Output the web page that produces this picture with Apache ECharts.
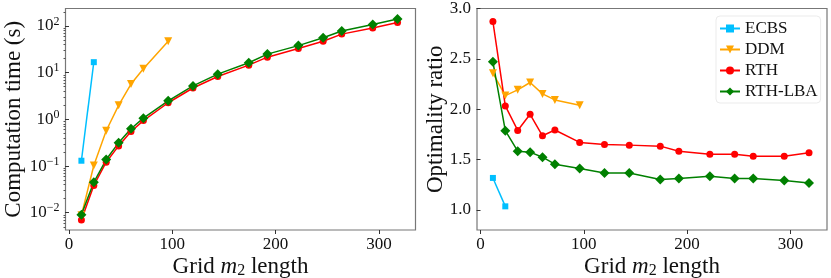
<!DOCTYPE html>
<html><head><meta charset="utf-8">
<script src="https://cdn.jsdelivr.net/npm/echarts@6/dist/echarts.min.js"></script>
<style>html,body{margin:0;padding:0;background:#fff}#c{width:831px;height:278px}</style>
</head><body><div id="c"></div>
<script>
const seriesNames = ['ECBS', 'DDM', 'RTH', 'RTH-LBA'];
const xECBS = [12, 24];
const xDDM = [12, 24, 36, 48, 60, 72, 96];
const xRTH = [12, 24, 36, 48, 60, 72, 96, 120, 144, 174, 192, 222, 246, 264, 294, 318];
const timeECBS = [0.13, 16.8];
const timeDDM = [0.0088, 0.103, 0.57, 2.0, 5.7, 12.1, 47];
const timeRTH = [0.007, 0.0385, 0.121, 0.27, 0.55, 0.94, 2.27, 4.7, 8.3, 14.5, 21.5, 33, 47, 67, 91, 119];
const timeLBA = [0.0091, 0.045, 0.138, 0.314, 0.63, 1.06, 2.5, 5.2, 9.3, 16.3, 25, 38, 56, 78, 108, 142];
const ratioECBS = [1.317, 1.035];
const ratioDDM = [2.358, 2.135, 2.192, 2.265, 2.152, 2.092, 2.039];
const ratioRTH = [2.870, 2.032, 1.789, 1.949, 1.736, 1.793, 1.670, 1.650, 1.643, 1.633, 1.583, 1.553, 1.553, 1.533, 1.533, 1.567];
const ratioLBA = [2.471, 1.786, 1.583, 1.573, 1.523, 1.454, 1.410, 1.367, 1.367, 1.301, 1.311, 1.334, 1.311, 1.311, 1.291, 1.267];
const xTicks = [0, 100, 200, 300];
const logTicks = [0.01, 0.1, 1, 10, 100];
const ratioTicks = [1.0, 1.5, 2.0, 2.5, 3.0];

const FONT = "'Liberation Serif', 'DejaVu Serif', serif";
const colors = ['#00bfff', '#ffa500', '#ff0000', '#008000'];
const symbols = ['rect', 'triangle', 'circle', 'diamond'];
const symSizes = [6, 8, 7, [10, 10]];
const symRot = [0, 180, 0, 0];
const frame = '#777';

const minorLog = [];
for (let e = -3; e <= 2; e++) for (let k = 2; k <= 9; k++) {
  const v = k * Math.pow(10, e);
  if (v > Math.pow(10, -2.37) && v < Math.pow(10, 2.375)) minorLog.push(v);
}

function pairs(xs, ys) { return xs.map((x, i) => [x, ys[i]]); }

const xAxisBase = (gi) => ({
  type: 'value', gridIndex: gi, min: -3.4, max: 335.4,
  splitLine: { show: false },
  axisLine: { show: false },
  axisTick: { show: true, length: 4, lineStyle: { color: '#333' }, customValues: xTicks },
  axisLabel: { fontFamily: FONT, fontSize: 17, color: '#111', margin: 6, customValues: xTicks },
  name: '{a|Grid }{m|m}{s|2}{a| length}',
  nameLocation: 'middle', nameGap: 24, nameMoveOverlap: false,
  nameTextStyle: {
    rich: {
      a: { fontFamily: FONT, fontSize: 23, color: '#111' },
      m: { fontFamily: FONT, fontSize: 23, fontStyle: 'italic', color: '#111' },
      s: { fontFamily: FONT, fontSize: 16, color: '#111', padding: [9, 0, 0, 0] }
    }
  }
});

function supFmt(v) {
  const e = Math.round(Math.log10(v));
  return '{b|10}{s|' + (e < 0 ? '\u2212' + (-e) : e) + '}';
}

const option = {
  animation: false,
  backgroundColor: '#fff',
  grid: [
    { left: 65.5, top: 8.5, width: 350, height: 221.5, show: true, borderColor: frame, borderWidth: 1.2, containLabel: false, outerBoundsMode: 'none' },
    { left: 477, top: 8.5, width: 350, height: 221.5, show: true, borderColor: frame, borderWidth: 1.2, containLabel: false, outerBoundsMode: 'none' }
  ],
  xAxis: [xAxisBase(0), xAxisBase(1)],
  yAxis: [
    {
      type: 'log', gridIndex: 0, logBase: 10, position: 'left',
      min: Math.pow(10, -2.37), max: Math.pow(10, 2.375),
      splitLine: { show: false }, axisLine: { show: false },
      axisTick: { show: true, length: 4, lineStyle: { color: '#333' }, customValues: logTicks },
      axisLabel: {
        margin: 6, customValues: logTicks, formatter: supFmt,
        rich: {
          b: { fontFamily: FONT, fontSize: 17, color: '#111' },
          s: { fontFamily: FONT, fontSize: 12, color: '#111', padding: [0, 0, 9, 0] }
        }
      },
      name: 'Computation time (s)', nameLocation: 'middle', nameGap: 40, nameMoveOverlap: false,
      nameTextStyle: { fontFamily: FONT, fontSize: 23, color: '#111' }
    },
    {
      type: 'log', gridIndex: 0, logBase: 10, position: 'left', offset: 0,
      min: Math.pow(10, -2.37), max: Math.pow(10, 2.375),
      splitLine: { show: false }, axisLine: { show: false },
      axisTick: { show: true, length: 2, lineStyle: { color: '#555' }, customValues: minorLog },
      axisLabel: { show: false }
    },
    {
      type: 'value', gridIndex: 1, min: 0.8, max: 3.0,
      splitLine: { show: false }, axisLine: { show: false },
      axisTick: { show: true, length: 4, lineStyle: { color: '#333' }, customValues: ratioTicks },
      axisLabel: {
        fontFamily: FONT, fontSize: 17, color: '#111', margin: 6,
        customValues: ratioTicks, formatter: v => v.toFixed(1)
      },
      name: 'Optimality ratio', nameLocation: 'middle', nameGap: 30, nameMoveOverlap: false,
      nameTextStyle: { fontFamily: FONT, fontSize: 23, color: '#111' }
    }
  ],
  legend: {
    data: seriesNames,
    orient: 'vertical', left: 716, top: 16,
    padding: [4, 3, 3, 3], itemGap: 4, itemWidth: 20, itemHeight: 10,
    backgroundColor: '#fff', borderColor: '#ebebeb', borderWidth: 1, borderRadius: 4,
    textStyle: { fontFamily: FONT, fontSize: 17, color: '#111', lineHeight: 17 }
  },
  series: []
};

const timeData = [pairs(xECBS, timeECBS), pairs(xDDM, timeDDM), pairs(xRTH, timeRTH), pairs(xRTH, timeLBA)];
const ratioData = [pairs(xECBS, ratioECBS), pairs(xDDM, ratioDDM), pairs(xRTH, ratioRTH), pairs(xRTH, ratioLBA)];

seriesNames.forEach((n, i) => {
  const common = {
    name: n, type: 'line', color: colors[i],
    symbol: symbols[i], symbolSize: symSizes[i], symbolRotate: symRot[i],
    showAllSymbol: true,
    lineStyle: { width: 1.5, color: colors[i] },
    itemStyle: { color: colors[i] },
    emphasis: { disabled: true }
  };
  option.series.push(Object.assign({}, common, { xAxisIndex: 0, yAxisIndex: 0, data: timeData[i] }));
  option.series.push(Object.assign({}, common, { xAxisIndex: 1, yAxisIndex: 2, data: ratioData[i] }));
});

const chart = echarts.init(document.getElementById('c'), null, { renderer: 'canvas' });
chart.setOption(option);
</script></body></html>
